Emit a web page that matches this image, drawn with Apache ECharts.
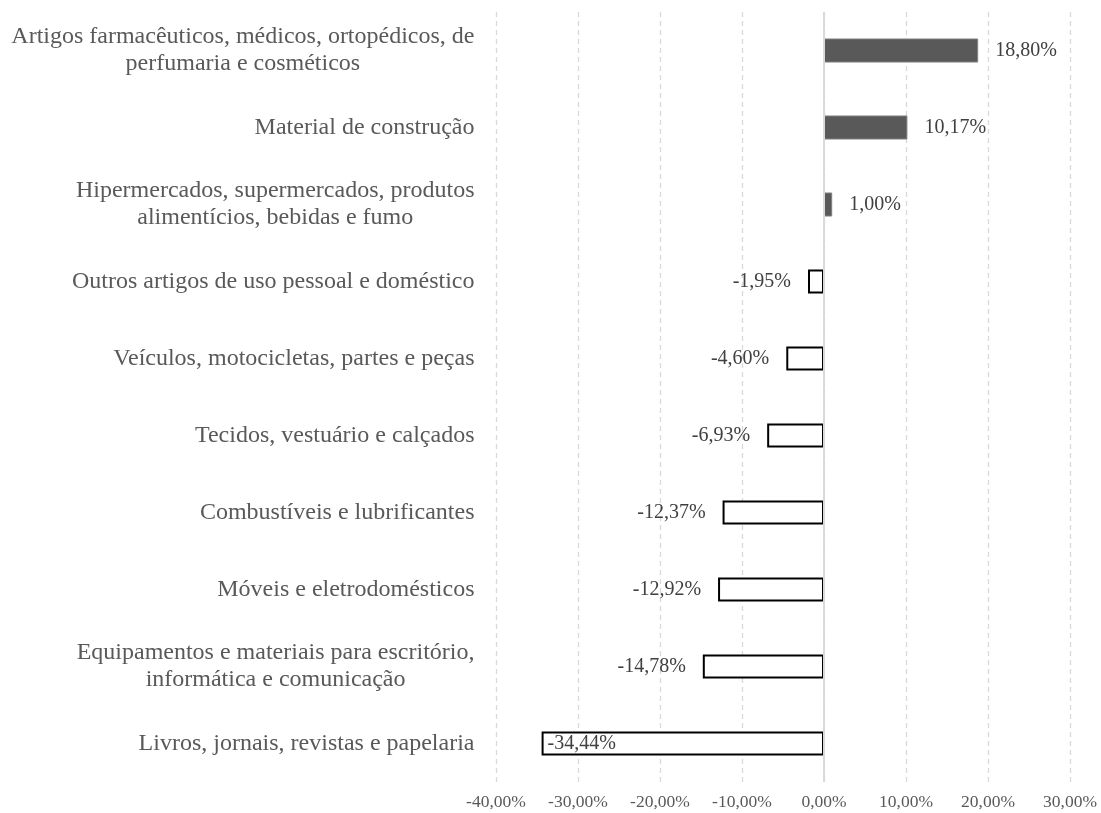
<!DOCTYPE html>
<html>
<head>
<meta charset="utf-8">
<script src="https://cdn.jsdelivr.net/npm/echarts@6/dist/echarts.min.js"></script>
<style>html,body{margin:0;padding:0;background:#fff}#c{width:1101px;height:813px}</style>
</head>
<body>
<div id="c"></div>
<script>
const categories = [
  "Artigos farmacêuticos, médicos, ortopédicos, de\nperfumaria e cosméticos",
  "Material de construção",
  "Hipermercados, supermercados, produtos\nalimentícios, bebidas e fumo",
  "Outros artigos de uso pessoal e doméstico",
  "Veículos, motocicletas, partes e peças",
  "Tecidos, vestuário e calçados",
  "Combustíveis e lubrificantes",
  "Móveis e eletrodomésticos",
  "Equipamentos e materiais para escritório,\ninformática e comunicação",
  "Livros, jornais, revistas e papelaria"
];
const values = [18.80, 10.17, 1.00, -1.95, -4.60, -6.93, -12.37, -12.92, -14.78, -34.44];
const axisMin = -40, axisMax = 30, axisInterval = 10;

const FONT = "Liberation Serif";
const catFontSize = 24;
const ctx = document.createElement('canvas').getContext('2d');
ctx.font = catFontSize + 'px "' + FONT + '"';
const rich = {};
categories.forEach((c, i) => {
  const lines = c.split('\n');
  const w = Math.max(...lines.map(l => ctx.measureText(l).width)) + 1;
  rich['r' + i] = { width: w, align: 'center', fontSize: catFontSize, fontFamily: FONT, color: '#595959', lineHeight: 27 };
});

const fmt = v => v.toFixed(2).replace('.', ',') + '%';

const seriesData = values.map(v => {
  const pos = v >= 0;
  return {
    value: v,
    itemStyle: pos
      ? { color: '#595959', borderColor: '#7f7f7f', borderWidth: 1 }
      : { color: '#ffffff', borderColor: '#000000', borderWidth: 2 },
    label: {
      position: pos ? 'right' : (v < -30 ? 'insideLeft' : 'left'),
      distance: pos ? 17 : (v < -30 ? 6 : 17)
    }
  };
});

const chart = echarts.init(document.getElementById('c'));
chart.setOption({
  animation: false,
  backgroundColor: '#ffffff',
  grid: { left: 496, right: 31, top: 12, bottom: 31, containLabel: false },
  xAxis: {
    type: 'value', min: axisMin, max: axisMax, interval: axisInterval,
    axisLine: { show: false }, axisTick: { show: false },
    splitLine: { show: true, lineStyle: { type: [5, 4], color: '#d9d9d9', width: 1.3 } },
    axisLabel: { formatter: fmt, fontFamily: FONT, fontSize: 17.5, color: '#595959', margin: 11 }
  },
  yAxis: {
    type: 'category', data: categories, inverse: true,
    axisLine: { show: false, onZero: false }, axisTick: { show: false },
    splitLine: { show: false },
    axisLabel: {
      margin: 21, align: 'right',
      fontFamily: FONT, fontSize: catFontSize, color: '#595959', lineHeight: 27,
      formatter: (val) => {
        const i = categories.indexOf(val);
        return val.split('\n').map(l => '{r' + i + '|' + l + '}').join('\n');
      },
      rich: rich
    }
  },
  series: [{
    type: 'bar',
    data: seriesData,
    barWidth: 24,
    label: {
      show: true, fontFamily: FONT, fontSize: 20, color: '#404040',
      formatter: p => fmt(p.value)
    },
    markLine: {
      silent: true, symbol: 'none', animation: false,
      label: { show: false },
      lineStyle: { type: 'solid', color: '#d9d9d9', width: 2 },
      data: [{ xAxis: 0 }]
    }
  }]
});
</script>
</body>
</html>
